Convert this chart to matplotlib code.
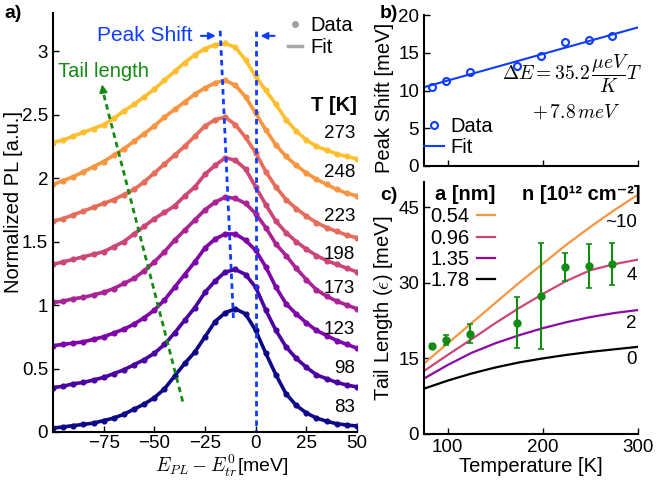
import matplotlib.pyplot as plt
from matplotlib.lines import Line2D

plt.rcParams['font.family'] = ['Liberation Sans', 'DejaVu Sans']
plt.rcParams['mathtext.fontset'] = 'cm'

# ---- a) normalized PL spectra (offset), sampled every 5 meV ----
energy = list(range(-100, 55, 5))
temps = [83, 98, 123, 173, 198, 223, 248, 273]

pl_83 = [0.03, 0.04, 0.05, 0.06, 0.07, 0.09, 0.11, 0.14, 0.18, 0.22, 0.27, 0.34,
         0.44, 0.54, 0.63, 0.75, 0.87, 0.94, 0.97, 0.93, 0.80, 0.62, 0.45, 0.30,
         0.21, 0.15, 0.11, 0.085, 0.065, 0.055, 0.047]
pl_98 = [0.35, 0.36, 0.38, 0.39, 0.41, 0.43, 0.46, 0.49, 0.53, 0.57, 0.62, 0.69,
         0.78, 0.88, 0.98, 1.10, 1.19, 1.26, 1.28, 1.24, 1.14, 0.96, 0.80, 0.67,
         0.58, 0.51, 0.45, 0.42, 0.39, 0.37, 0.355]
pl_123 = [0.68, 0.69, 0.70, 0.71, 0.73, 0.75, 0.78, 0.81, 0.85, 0.90, 0.96, 1.04,
          1.14, 1.24, 1.34, 1.45, 1.52, 1.56, 1.56, 1.51, 1.43, 1.30, 1.14, 1.01,
          0.93, 0.86, 0.80, 0.76, 0.72, 0.69, 0.66]
pl_173 = [1.02, 1.03, 1.05, 1.06, 1.08, 1.10, 1.13, 1.17, 1.21, 1.27, 1.34, 1.42,
          1.51, 1.59, 1.67, 1.75, 1.81, 1.85, 1.84, 1.80, 1.72, 1.61, 1.48, 1.39,
          1.29, 1.20, 1.12, 1.07, 1.03, 1.00, 0.97]
pl_198 = [1.32, 1.34, 1.36, 1.38, 1.40, 1.42, 1.46, 1.50, 1.56, 1.62, 1.68, 1.73,
          1.78, 1.86, 1.93, 2.03, 2.10, 2.16, 2.14, 2.07, 1.93, 1.79, 1.66, 1.57,
          1.50, 1.44, 1.39, 1.35, 1.32, 1.29, 1.26]
pl_223 = [1.66, 1.68, 1.71, 1.74, 1.77, 1.80, 1.83, 1.87, 1.91, 1.97, 2.04, 2.11,
          2.18, 2.25, 2.33, 2.41, 2.46, 2.48, 2.42, 2.32, 2.20, 2.05, 1.93, 1.83,
          1.76, 1.70, 1.65, 1.61, 1.58, 1.55, 1.53]
pl_248 = [1.95, 1.98, 2.01, 2.05, 2.09, 2.13, 2.18, 2.23, 2.29, 2.35, 2.41, 2.48,
          2.54, 2.60, 2.66, 2.71, 2.75, 2.77, 2.73, 2.64, 2.51, 2.38, 2.26, 2.17,
          2.10, 2.04, 1.99, 1.95, 1.91, 1.88, 1.86]
pl_273 = [2.28, 2.30, 2.33, 2.36, 2.39, 2.42, 2.47, 2.53, 2.58, 2.64, 2.70, 2.77,
          2.84, 2.91, 2.97, 3.02, 3.05, 3.06, 3.03, 2.93, 2.80, 2.69, 2.58, 2.46,
          2.37, 2.30, 2.25, 2.22, 2.19, 2.17, 2.15]
spectra = [pl_83, pl_98, pl_123, pl_173, pl_198, pl_223, pl_248, pl_273]
spec_colors = ['#0d0887', '#4c02a1', '#7e03a8', '#a92395',
               '#cc4778', '#e66c5c', '#f89540', '#fbbf2f']
temp_label_y = [0.19, 0.50, 0.81, 1.13, 1.40, 1.70, 2.04, 2.35]

# ---- b) peak shift ----
shift_T = [83, 98, 123, 173, 198, 223, 248, 273]
shift_meV = [10.5, 11.3, 12.4, 13.3, 14.6, 16.4, 16.7, 17.2]
shift_fit_T = [75, 300]
shift_fit_meV = [10.44, 18.36]

# ---- c) tail length ----
tail_T = [83, 98, 123, 173, 198, 223, 248, 273]
tail_meV = [17.5, 18.6, 19.9, 22.1, 27.3, 33.1, 33.3, 33.7]
tail_err = [0.3, 1.0, 1.9, 5.0, 10.5, 2.8, 4.3, 4.2]
model_T = [75, 100, 125, 150, 175, 200, 225, 250, 275, 300]
model_054 = [14.0, 18.0, 22.0, 26.0, 30.0, 33.8, 37.6, 41.1, 44.4, 47.5]
model_096 = [12.5, 15.7, 18.8, 22.0, 25.0, 27.8, 30.4, 32.5, 33.7, 34.6]
model_135 = [11.0, 13.7, 16.1, 18.0, 19.6, 21.0, 22.2, 23.2, 24.0, 24.6]
model_178 = [9.0, 10.6, 12.0, 13.2, 14.2, 15.0, 15.7, 16.3, 16.8, 17.3]
a_labels = ['0.54', '0.96', '1.35', '1.78']
n_labels = ['~10', '4', '2', '0']
model_colors = ['#f89540', '#cc4778', '#8b0aa5', 'black']

blue = '#0f3cff'
green = '#138a13'
LABEL = 14.5
TICK = 13.5


def style(ax):
    for s in ['top', 'right']:
        ax.spines[s].set_visible(False)
    for s in ['left', 'bottom']:
        ax.spines[s].set_linewidth(1.5)
    ax.tick_params(direction='in', length=4, width=1, labelsize=TICK)


fig = plt.figure(figsize=(6.6, 4.8), dpi=100)

# ================= panel a =================
ax = fig.add_axes([53 / 660, 48 / 480, 304 / 660, 419 / 480])
for pl, c in zip(spectra, spec_colors):
    ax.plot(energy, pl, '-', color=c, lw=2.6)
    ax.plot(energy, pl, 'o', color=c, ms=3.4)
for t, y in zip(temps, temp_label_y):
    ax.text(49, y, str(t), ha='right', va='center', fontsize=TICK)
ax.text(50, 2.57, 'T [K]', ha='right', va='center', fontsize=LABEL, weight='bold')

# peak shift markers
ax.plot([-17.5, -10.9], [3.16, 0.87], ls=(0, (2, 1.5)), color=blue, lw=2)
ax.plot([0.3, 0.3], [3.16, 0], ls=(0, (2, 1.5)), color=blue, lw=2)
ax.annotate('', xy=(-18.3, 3.12), xytext=(-28.4, 3.12),
            arrowprops=dict(arrowstyle='-|>', color=blue, lw=1.5, mutation_scale=10))
ax.annotate('', xy=(1.0, 3.12), xytext=(10.7, 3.12),
            arrowprops=dict(arrowstyle='-|>', color=blue, lw=1.5, mutation_scale=10))
ax.text(-31.0, 3.12, 'Peak Shift', color=blue, ha='right', va='center', fontsize=15)

# tail length arrow
ax.plot([-36, -75], [0.24, 2.66], ls=(0, (2, 1.5)), color=green, lw=2)
ax.annotate('', xy=(-76, 2.76), xytext=(-75, 2.66),
            arrowprops=dict(arrowstyle='-|>', color=green, lw=1.5, mutation_scale=11))
ax.text(-75, 2.84, 'Tail length', color=green, ha='center', va='center', fontsize=LABEL)

ax.set_xlim(-100, 50)
ax.set_ylim(0, 3.3)
ax.set_xticks([-75, -50, -25, 0, 25, 50])
ax.set_yticks([0, 0.5, 1, 1.5, 2, 2.5, 3])
ax.set_yticklabels(['0', '0.5', '1', '1.5', '2', '2.5', '3'])
ax.set_xlabel(r'$E_{PL}-E_{tr}^0$[meV]', fontsize=14)
ax.xaxis.set_label_coords(0.555, -0.05)
ax.set_ylabel('Normalized PL [a.u.]', fontsize=LABEL)
ax.yaxis.set_label_coords(-0.1, 0.55)
style(ax)
ax.tick_params(axis='x', pad=2)

handles = [Line2D([], [], marker='o', ls='none', color='#a0a0a0', ms=4),
           Line2D([], [], color='#a8a8a8', lw=2.5)]
fig.legend(handles, ['Data', 'Fit'], loc='upper left',
           bbox_to_anchor=(288 / 660, 1 - 16 / 480), frameon=False,
           fontsize=LABEL, handlelength=0.7, handletextpad=0.4,
           labelspacing=0.15, borderpad=0, borderaxespad=0)

fig.text(4 / 660, 1 - 14 / 480, 'a)', fontsize=14, weight='bold', va='center')

# ================= panel b =================
ax = fig.add_axes([424 / 660, 314 / 480, 214 / 660, 151 / 480])
ax.plot(shift_T, shift_meV, 'o', mfc='none', mec=blue, mew=1.5, ms=5, label='Data')
ax.plot(shift_fit_T, shift_fit_meV, '-', color=blue, lw=1.5, label='Fit')
ax.text(0.69, 0.61, r'$\Delta E = 35.2\,\dfrac{\mu eV}{K}T$', transform=ax.transAxes,
        ha='center', va='center', fontsize=14)
ax.text(0.71, 0.355, r'$+\,7.8\,meV$', transform=ax.transAxes,
        ha='center', va='center', fontsize=14)
ax.set_xlim(75, 300)
ax.set_ylim(0, 20)
ax.set_xticks([100, 200, 300])
ax.set_xticklabels([])
ax.set_yticks([0, 5, 10, 15, 20])
ax.set_ylabel('Peak Shift [meV]', fontsize=LABEL)
ax.yaxis.set_label_coords(-0.14, 0.45)
ax.legend(loc='lower left', bbox_to_anchor=(0.0, 0.06), frameon=False,
          fontsize=LABEL, handlelength=1.0, handletextpad=0.3,
          labelspacing=0.1, borderpad=0, borderaxespad=0)
style(ax)
fig.text(380 / 660, 1 - 14 / 480, 'b)', fontsize=14, weight='bold', va='center')

# ================= panel c =================
ax = fig.add_axes([424 / 660, 46 / 480, 214 / 660, 252 / 480])
models = [model_054, model_096, model_135, model_178]
lines = []
for m, c in zip(models, model_colors):
    ln, = ax.plot(model_T, m, color=c, lw=1.6)
    lines.append(ln)
ax.errorbar(tail_T, tail_meV, yerr=tail_err, fmt='o', color=green, ms=5,
            elinewidth=1.5, capsize=2.5, capthick=1.2)
ax.legend(lines, a_labels, loc='upper left', bbox_to_anchor=(0.03, 0.9),
          markerfirst=False, frameon=False, fontsize=LABEL, handlelength=0.9,
          handletextpad=0.35, labelspacing=0.12, borderpad=0, borderaxespad=0)
ax.text(0.05, 0.95, 'a [nm]', transform=ax.transAxes, ha='left', va='center',
        fontsize=LABEL, weight='bold')
ax.text(1.01, 0.95, 'n [10¹² cm⁻²]', transform=ax.transAxes, ha='right', va='center',
        fontsize=LABEL, weight='bold')
for lab, yy in zip(n_labels, [0.84, 0.63, 0.44, 0.294]):
    ax.text(0.995, yy, lab, transform=ax.transAxes, ha='right', va='center',
            fontsize=TICK)
ax.set_xlim(75, 300)
ax.set_ylim(0, 50)
ax.set_xticks([100, 200, 300])
ax.set_yticks([0, 15, 30, 45])
ax.set_xlabel('Temperature [K]', fontsize=LABEL, labelpad=1)
ax.set_ylabel(r'Tail Length ($\epsilon$) [meV]', fontsize=LABEL, labelpad=2)
style(ax)
fig.text(380 / 660, 1 - 196 / 480, 'c)', fontsize=14, weight='bold', va='center')

fig.savefig('out.png', dpi=100)
